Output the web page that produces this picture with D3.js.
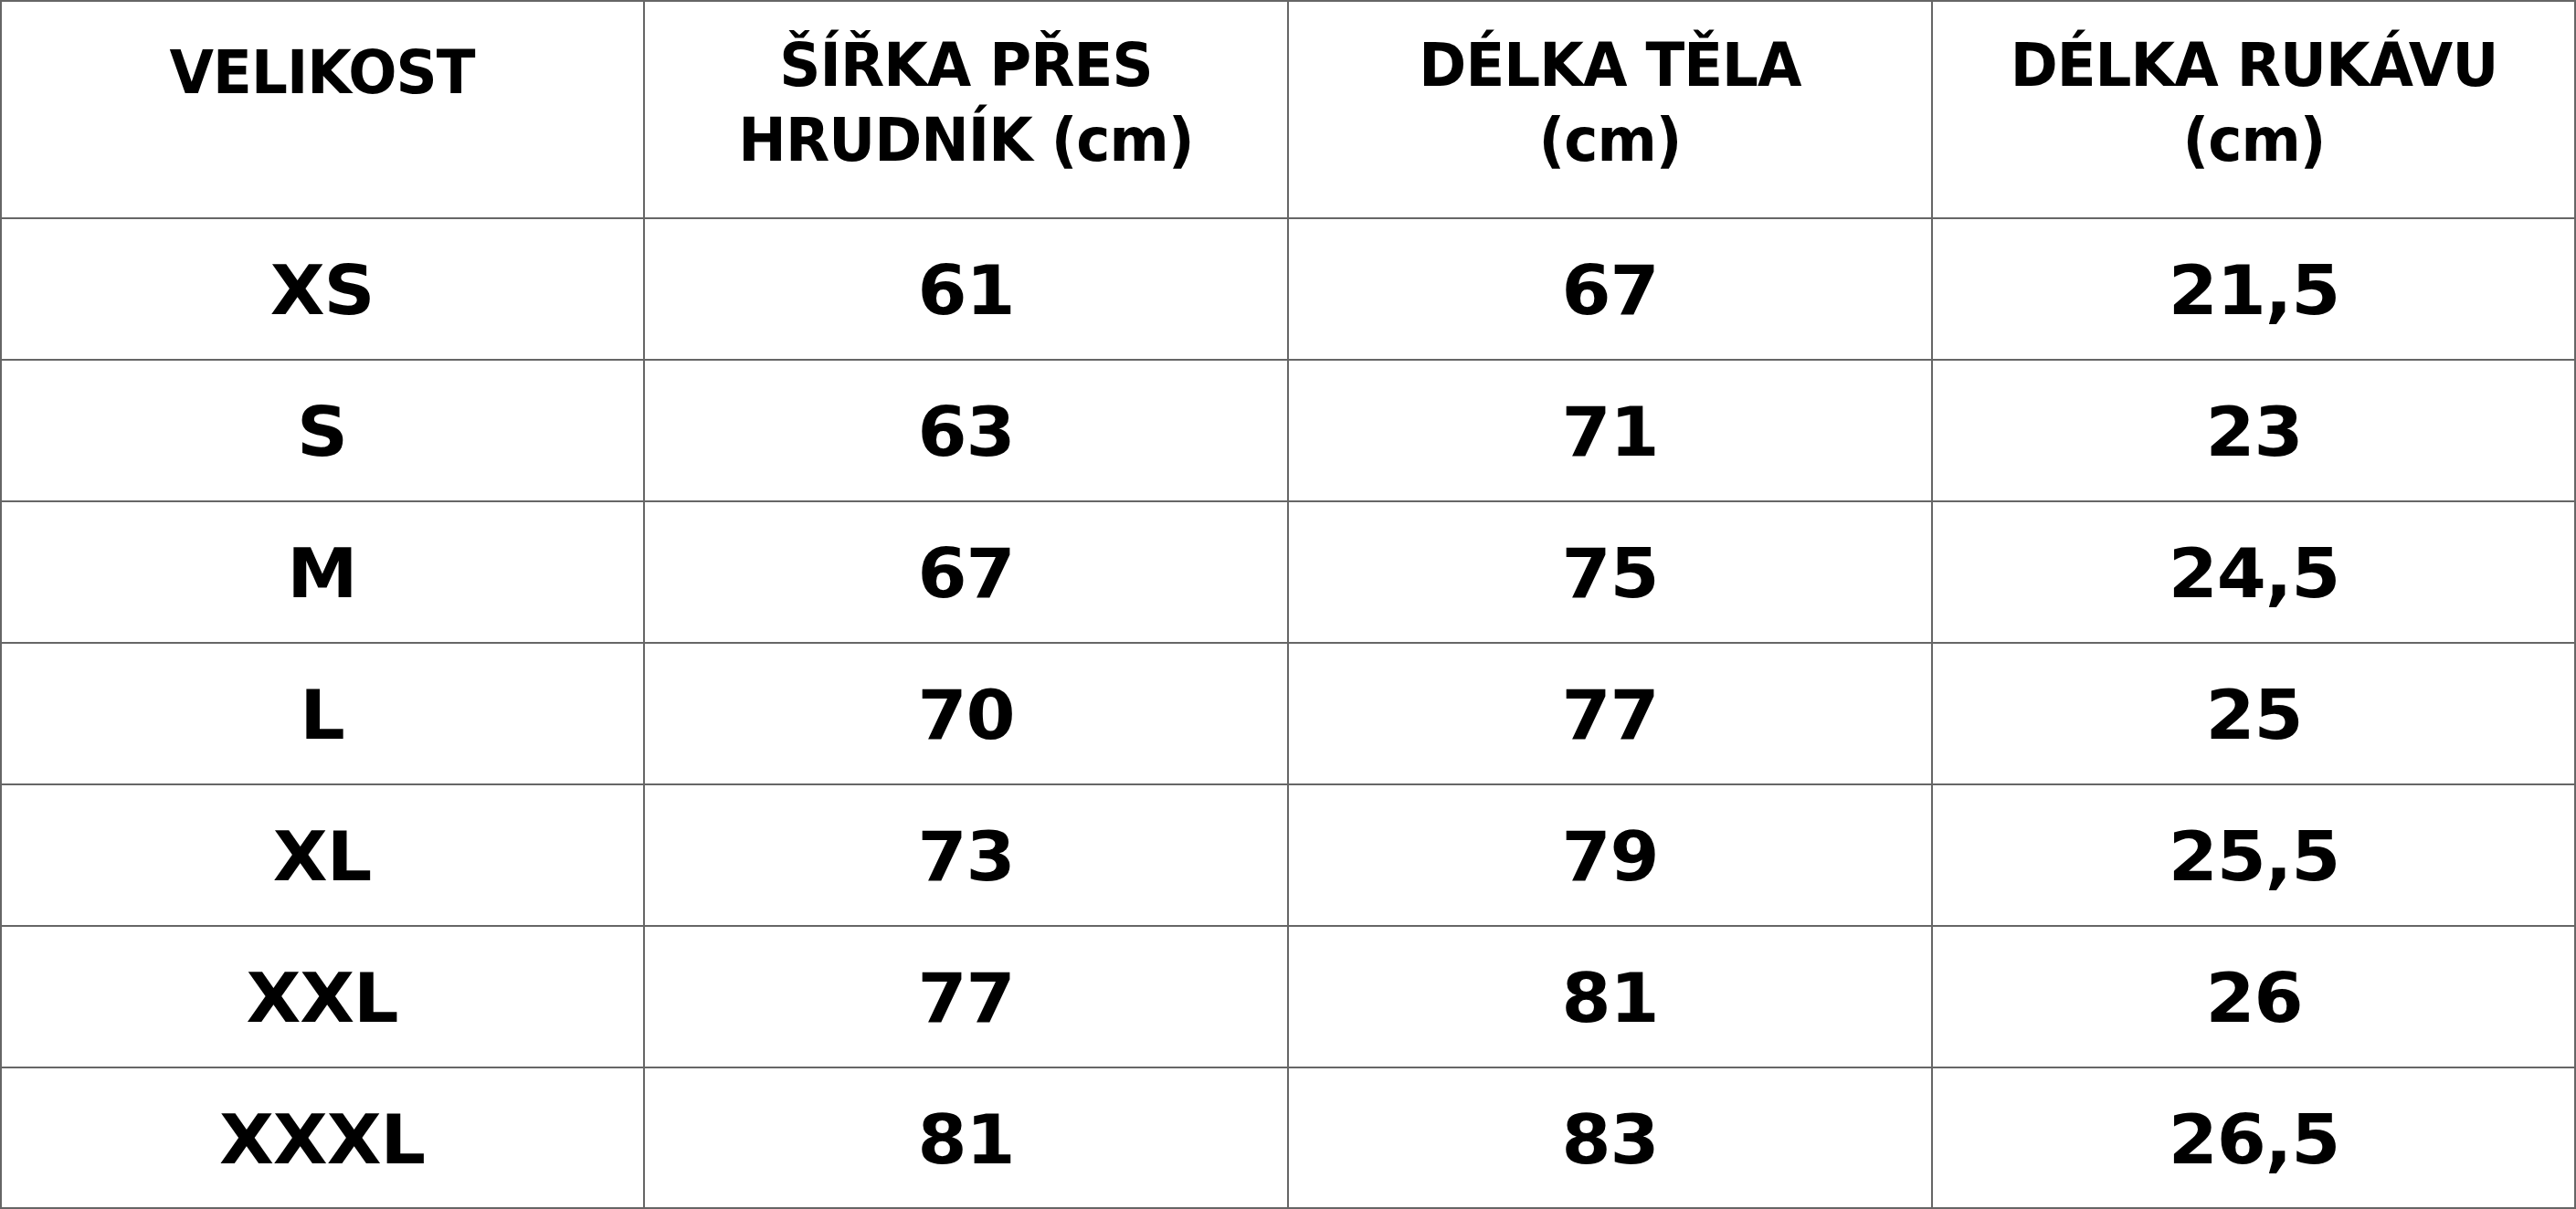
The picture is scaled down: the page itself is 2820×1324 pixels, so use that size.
<!DOCTYPE html>
<html><head><meta charset="utf-8">
<script src="https://cdn.jsdelivr.net/npm/d3@7"></script>
<style>body{margin:0;background:#fff}svg{display:block}</style>
</head><body>
<svg id="chart" width="2820" height="1324"></svg>
<script>
const headers = [["VELIKOST"], ["ŠÍŘKA PŘES", "HRUDNÍK (cm)"], ["DÉLKA TĚLA", "(cm)"], ["DÉLKA RUKÁVU", "(cm)"]];
const sizes = ["XS", "S", "M", "L", "XL", "XXL", "XXXL"];
const chest = ["61", "63", "67", "70", "73", "77", "81"];
const bodyLen = ["67", "71", "75", "77", "79", "81", "83"];
const sleeve = ["21,5", "23", "24,5", "25", "25,5", "26", "26,5"];

(function () {
  const svg = d3.select("#chart");
  const width = +svg.attr("width");
  const height = +svg.attr("height");
  const headH = 239;
  const font = "'DejaVu Sans', sans-serif";

  const x = d3.scaleBand().domain(d3.range(headers.length)).range([0, width]);
  const y = d3.scaleBand().domain(sizes).range([headH, height]);

  const rows = sizes.map((s, i) => [s, chest[i], bodyLen[i], sleeve[i]]);

  // grid
  const lines = svg.append("g").attr("stroke", "#666").attr("stroke-width", 2);
  [headH].concat(sizes.map((s) => y(s) + y.bandwidth())).forEach((yy) =>
    lines.append("line").attr("x1", 0).attr("x2", width).attr("y1", yy).attr("y2", yy));
  d3.range(1, headers.length).forEach((c) =>
    lines.append("line").attr("x1", x(c)).attr("x2", x(c)).attr("y1", 0).attr("y2", height));
  lines.append("rect").attr("x", 1).attr("y", 1).attr("width", width - 2).attr("height", height - 2).attr("fill", "none");

  const addText = (cx, cy, str, size, stretch) =>
    svg.append("text")
      .attr("transform", `translate(${cx},${cy}) scale(${stretch},1)`)
      .attr("text-anchor", "middle")
      .style("font-family", font)
      .style("font-weight", 900)
      .style("font-size", `${size}px`)
      .style("letter-spacing", "-1px")
      .text(str);

  headers.forEach((h, c) => {
    const cx = x(c) + x.bandwidth() / 2;
    if (h.length === 1) addText(cx, 102, h[0], 66, 0.95);
    else h.forEach((t, k) => addText(cx, 94 + k * 82, t, 66, 0.95));
  });

  rows.forEach((r) => {
    r.forEach((v, c) => {
      addText(x(c) + x.bandwidth() / 2, y(r[0]) + y.bandwidth() / 2 + 27, v, 74, 1.05);
    });
  });
})();
</script>
</body></html>
